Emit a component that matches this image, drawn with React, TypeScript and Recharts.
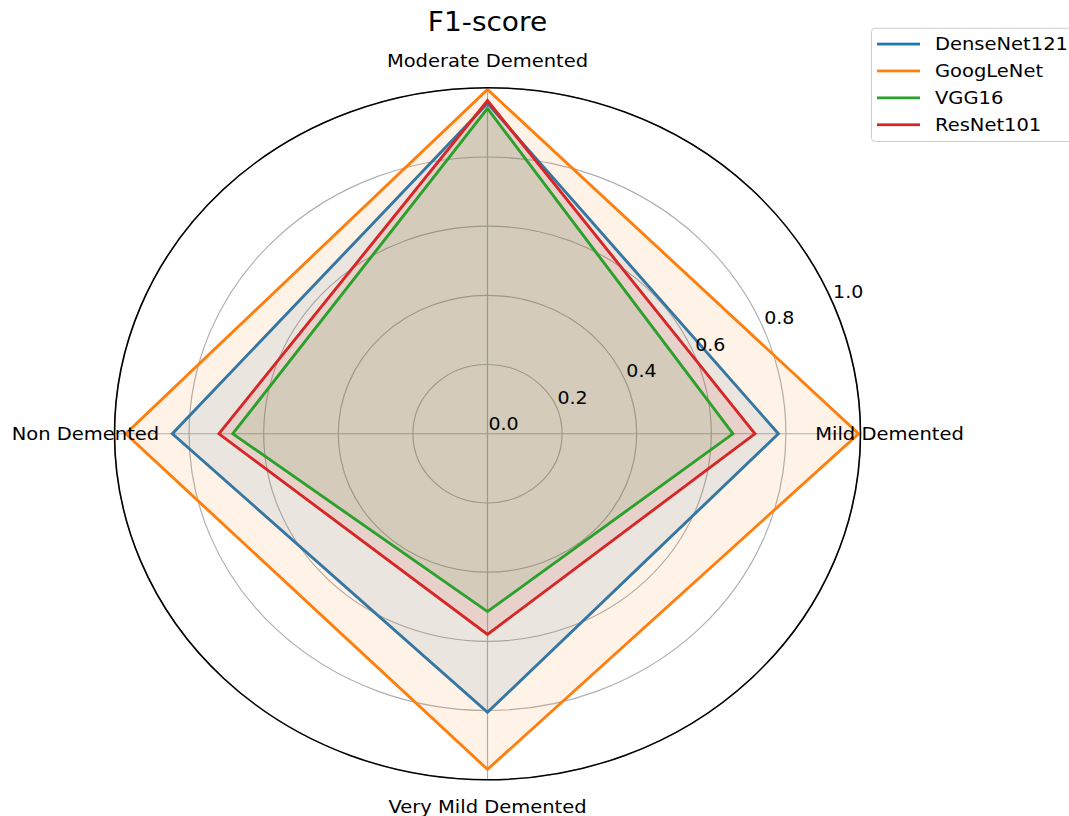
import React from 'react';
import { RadarChart, Radar, PolarGrid, PolarAngleAxis, PolarRadiusAxis, Legend } from 'recharts';

const categories = ['Moderate Demented', 'Mild Demented', 'Very Mild Demented', 'Non Demented'];
const denseNet121 = [0.955, 0.78, 0.805, 0.845];
const googLeNet = [0.995, 0.995, 0.97, 0.97];
const vgg16 = [0.94, 0.658, 0.514, 0.683];
const resNet101 = [0.963, 0.717, 0.58, 0.72];
const radiusTicks = [0, 0.2, 0.4, 0.6, 0.8, 1.0];

const seriesNames = ['DenseNet121', 'GoogLeNet', 'VGG16', 'ResNet101'];
const seriesColors: Record<string, string> = {
  DenseNet121: '#1f77b4',
  GoogLeNet: '#ff7f0e',
  VGG16: '#2ca02c',
  ResNet101: '#d62728',
};
// draw order of fills (bottom to top)
const drawOrder = ['DenseNet121', 'GoogLeNet', 'ResNet101', 'VGG16'];

const data = categories.map((c, i) => ({
  subject: c,
  DenseNet121: denseNet121[i],
  GoogLeNet: googLeNet[i],
  VGG16: vgg16[i],
  ResNet101: resNet101[i],
}));

const S = 346 / 373;
const W = 1069;
const H = 880;
const CX = 487.5;
const CY = 433.75 / S;
const R = 373;
const FONT = '"DejaVu Sans", Verdana, sans-serif';

const AngleTick = (props: any) => {
  const { x, y, payload } = props;
  return (
    <text x={x} y={y} textAnchor="middle" dominantBaseline="central" fontSize={19.5} fontFamily={FONT} fill="#000">
      {payload.value}
    </text>
  );
};

const RadiusTick = (props: any) => {
  const { x, y, payload } = props;
  return (
    <text x={x + 1} y={y - 4} textAnchor="start" fontSize={19} fontFamily={FONT} fill="#000">
      {Number(payload.value).toFixed(1)}
    </text>
  );
};

const LegendBox = () => (
  <div
    style={{
      border: '1px solid #cccccc',
      borderRadius: 4,
      background: 'rgba(255,255,255,0.8)',
      width: 215,
      height: 123,
      paddingTop: 2,
      boxSizing: 'border-box',
      fontFamily: FONT,
    }}
  >
    {seriesNames.map((n) => (
      <div key={n} style={{ display: 'flex', alignItems: 'center', height: 29 }}>
        <div style={{ marginLeft: 5, width: 43, height: 3, background: seriesColors[n] }} />
        <div style={{ marginLeft: 15, fontSize: 19.5, color: '#000', whiteSpace: 'nowrap' }}>{n}</div>
      </div>
    ))}
  </div>
);

export default function App() {
  return (
    <div style={{ position: 'absolute', left: 0, top: 0, width: W, height: 816, overflow: 'hidden', background: '#fff' }}>
      <div
        style={{
          position: 'relative',
          width: W,
          height: H,
          transform: `scaleY(${S})`,
          transformOrigin: '0 0',
          fontFamily: FONT,
        }}
      >
        <div
          style={{
            position: 'absolute',
            left: CX - 200,
            width: 400,
            top: 23.7 - 17,
            height: 34,
            lineHeight: '34px',
            textAlign: 'center',
            fontSize: 28,
            color: '#000',
            fontFamily: FONT,
            zIndex: 2,
          }}
        >
          F1-score
        </div>
        <RadarChart
          width={W}
          height={H}
          data={data}
          cx={CX}
          cy={CY}
          outerRadius={R}
          margin={{ top: 0, right: 0, bottom: 0, left: 0 }}
        >
          <PolarGrid gridType="circle" stroke="#b0b0b0" strokeWidth={1.2} />
          <PolarAngleAxis
            dataKey="subject"
            tick={AngleTick}
            tickLine={false}
            tickSize={29}
            axisLineType="circle"
            axisLine={{ stroke: '#000', strokeWidth: 1.6 }}
            stroke="#000"
          />
          <PolarRadiusAxis
            angle={22.5}
            domain={[0, 1]}
            ticks={radiusTicks as any}
            tickCount={6}
            type="number"
            scale="linear"
            allowDecimals={true}
            axisLine={false}
            tickLine={false}
            tick={RadiusTick}
          />
          {drawOrder.map((n) => (
            <Radar
              key={n}
              name={n}
              dataKey={n}
              stroke={seriesColors[n]}
              strokeWidth={3}
              fill={seriesColors[n]}
              fillOpacity={0.1}
              dot={false}
              isAnimationActive={false}
            />
          ))}
          <Legend
            content={() => <LegendBox />}
            wrapperStyle={{ left: 871, top: 30, right: 'auto', bottom: 'auto', width: 215, height: 123 }}
          />
        </RadarChart>
      </div>
    </div>
  );
}
